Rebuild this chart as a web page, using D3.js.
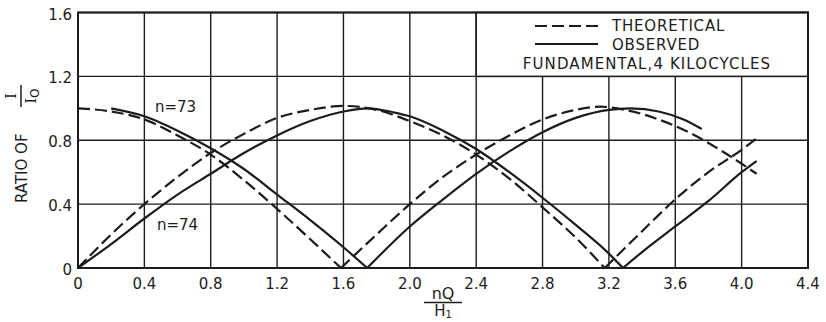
<!DOCTYPE html>
<html>
<head>
<meta charset="utf-8">
<script src="https://cdn.jsdelivr.net/npm/d3@7"></script>
<style>
  body { margin: 0; background: #fff; }
  svg text { font-family: "DejaVu Sans", sans-serif; fill: #1c1c1c; }
</style>
</head>
<body>
<div id="chart"></div>
<script>
const width = 826;
const height = 322;

const ink = '#1c1c1c';

// tick values
const xTicks = [0, 0.4, 0.8, 1.2, 1.6, 2.0, 2.4, 2.8, 3.2, 3.6, 4.0, 4.4];
const yTicks = [0, 0.4, 0.8, 1.2, 1.6];

// n = 73, theoretical (dashed)
const theo73 = [
  [0, 1.0], [0.2, 0.98], [0.4, 0.93], [0.6, 0.83], [0.8, 0.71], [1.0, 0.55],
  [1.2, 0.37], [1.4, 0.18], [1.585, 0],
  [1.8, 0.21], [2.0, 0.40], [2.2, 0.57], [2.4, 0.71], [2.6, 0.83], [2.8, 0.93],
  [3.0, 0.99], [3.15, 1.01], [3.3, 0.99], [3.5, 0.93], [3.7, 0.84], [3.9, 0.72], [4.09, 0.59]
];
// n = 73, observed (solid)
const obs73 = [
  [0.2, 1.0], [0.4, 0.95], [0.6, 0.86], [0.8, 0.75], [1.0, 0.62], [1.2, 0.46],
  [1.4, 0.30], [1.6, 0.13], [1.743, 0],
  [2.0, 0.26], [2.2, 0.43], [2.4, 0.59], [2.6, 0.73], [2.8, 0.85], [3.0, 0.94],
  [3.2, 0.99], [3.33, 1.0], [3.5, 0.98], [3.65, 0.93], [3.76, 0.87]
];
// n = 74, theoretical (dashed)
const theo74 = [
  [0, 0], [0.2, 0.21], [0.4, 0.40], [0.6, 0.57], [0.8, 0.72], [1.0, 0.84],
  [1.2, 0.94], [1.4, 0.99], [1.6, 1.015], [1.8, 0.99], [2.0, 0.92], [2.2, 0.83],
  [2.4, 0.71], [2.6, 0.56], [2.8, 0.38], [3.0, 0.19], [3.175, 0],
  [3.4, 0.23], [3.6, 0.43], [3.8, 0.60], [4.0, 0.74], [4.09, 0.81]
];
// n = 74, observed (solid)
const obs74 = [
  [0, 0], [0.2, 0.15], [0.4, 0.31], [0.6, 0.46], [0.8, 0.59], [1.0, 0.72],
  [1.2, 0.83], [1.4, 0.92], [1.6, 0.98], [1.75, 1.0], [1.9, 0.975], [2.0, 0.95],
  [2.2, 0.86], [2.4, 0.745], [2.6, 0.60], [2.8, 0.44], [3.0, 0.27], [3.2, 0.09], [3.285, 0],
  [3.4, 0.10], [3.6, 0.26], [3.8, 0.42], [4.0, 0.60], [4.09, 0.67]
];

const svg = d3.select('#chart')
    .append('svg')
    .attr('width', width)
    .attr('height', height);

const x = d3.scaleLinear().domain([0, 4.4]).range([78, 808]);
const y = d3.scaleLinear().domain([0, 1.6]).range([268, 12.5]);

const fmt = d => d === 0 ? '0' : d3.format('.1f')(d);

// grid
svg.append('g')
    .selectAll('line')
    .data(xTicks)
    .enter().append('line')
    .attr('x1', d => x(d)).attr('x2', d => x(d))
    .attr('y1', y(0)).attr('y2', y(1.6))
    .attr('stroke', ink).attr('stroke-width', 1.4);

svg.append('g')
    .selectAll('line')
    .data(yTicks)
    .enter().append('line')
    .attr('x1', x(0)).attr('x2', x(4.4))
    .attr('y1', d => y(d)).attr('y2', d => y(d))
    .attr('stroke', ink).attr('stroke-width', 1.4);

// legend box covers the upper right cells
svg.append('rect')
    .attr('x', x(2.4))
    .attr('y', y(1.6))
    .attr('width', x(4.4) - x(2.4))
    .attr('height', y(1.2) - y(1.6))
    .attr('fill', '#fff')
    .attr('stroke', ink)
    .attr('stroke-width', 1.6);

// frame
svg.append('rect')
    .attr('x', x(0))
    .attr('y', y(1.6))
    .attr('width', x(4.4) - x(0))
    .attr('height', y(0) - y(1.6))
    .attr('fill', 'none')
    .attr('stroke', ink)
    .attr('stroke-width', 2);

// tick labels
svg.append('g')
    .selectAll('text')
    .data(xTicks)
    .enter().append('text')
    .attr('x', d => x(d))
    .attr('y', 289)
    .attr('text-anchor', 'middle')
    .style('font-size', '15px')
    .text(fmt);

svg.append('g')
    .selectAll('text')
    .data(yTicks)
    .enter().append('text')
    .attr('x', 72)
    .attr('y', d => y(d) + 7)
    .attr('text-anchor', 'end')
    .style('font-size', '15px')
    .text(fmt);

// split a series into arches at the zero points
function arches(pts) {
    const out = [];
    let cur = [];
    pts.forEach((p, i) => {
        cur.push(p);
        if (p[1] === 0 && i > 0 && i < pts.length - 1) {
            out.push(cur);
            cur = [p];
        }
    });
    out.push(cur);
    return out;
}

const line = d3.line()
    .x(d => x(d[0]))
    .y(d => y(d[1]))
    .curve(d3.curveMonotoneX);

const series = [
    { pts: theo73, dash: '12,5' },
    { pts: theo74, dash: '12,5' },
    { pts: obs73, dash: null },
    { pts: obs74, dash: null }
];

series.forEach(s => {
    svg.append('g')
        .selectAll('path')
        .data(arches(s.pts))
        .enter().append('path')
        .attr('d', line)
        .attr('fill', 'none')
        .attr('stroke', ink)
        .attr('stroke-width', 2.2)
        .attr('stroke-dasharray', s.dash);
});

// curve labels
svg.append('text').attr('x', 155).attr('y', 112).style('font-size', '15px').text('n=73');
svg.append('text').attr('x', 157).attr('y', 230).style('font-size', '15px').text('n=74');

// legend
svg.append('line')
    .attr('x1', 535).attr('x2', 598).attr('y1', 26).attr('y2', 26)
    .attr('stroke', ink).attr('stroke-width', 2.2).attr('stroke-dasharray', '12,5');
svg.append('line')
    .attr('x1', 535).attr('x2', 598).attr('y1', 44).attr('y2', 44)
    .attr('stroke', ink).attr('stroke-width', 2);
svg.append('text').attr('x', 612).attr('y', 31).style('font-size', '15px')
    .style('letter-spacing', '0.8px').text('THEORETICAL');
svg.append('text').attr('x', 612).attr('y', 50).style('font-size', '15px')
    .style('letter-spacing', '0.8px').text('OBSERVED');
svg.append('text').attr('x', 647).attr('y', 69).attr('text-anchor', 'middle')
    .style('font-size', '15px').style('letter-spacing', '1.1px').text('FUNDAMENTAL,4 KILOCYCLES');

// x axis title: nQ / H1
svg.append('text').attr('x', 443).attr('y', 299).attr('text-anchor', 'middle')
    .style('font-size', '16px').text('nQ');
svg.append('line').attr('x1', 424).attr('x2', 462).attr('y1', 302.5).attr('y2', 302.5)
    .attr('stroke', ink).attr('stroke-width', 1.5);
const h1 = svg.append('text').attr('x', 443).attr('y', 316).attr('text-anchor', 'middle')
    .style('font-size', '15px');
h1.append('tspan').text('H');
h1.append('tspan').attr('dy', 2).style('font-size', '10px').text('1');

// y axis title: RATIO OF I / I0
const yt = svg.append('g').attr('transform', 'rotate(-90)');
yt.append('text').attr('x', -203).attr('y', 27).style('font-size', '15px').text('RATIO OF');
yt.append('text').attr('x', -96).attr('y', 16).attr('text-anchor', 'middle')
    .style('font-size', '14px').style('font-family', '"DejaVu Serif", serif').text('I');
yt.append('line').attr('x1', -107).attr('x2', -85).attr('y1', 21).attr('y2', 21)
    .attr('stroke', ink).attr('stroke-width', 1.5);
const i0 = yt.append('text').attr('x', -96).attr('y', 36).attr('text-anchor', 'middle')
    .style('font-size', '14px');
i0.append('tspan').style('font-family', '"DejaVu Serif", serif').text('I');
i0.append('tspan').attr('dy', 3).style('font-size', '12px').text('O');
</script>
</body>
</html>
